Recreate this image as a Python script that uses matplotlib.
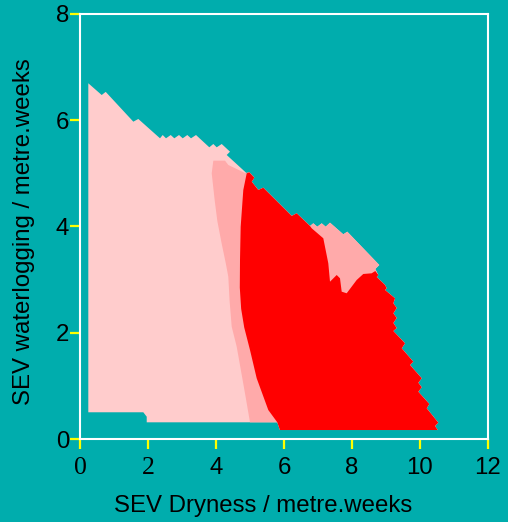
import matplotlib
matplotlib.use('Agg')
import matplotlib.pyplot as plt
from matplotlib.ticker import FixedFormatter

plt.rcParams['font.family'] = ['Liberation Sans', 'DejaVu Sans']
plt.rcParams['font.size'] = 17.3

bg = '#00adad'
light = '#ffcccc'
medium = '#ffaaaa'
core = '#ff0000'

x_ticks = [0, 2, 4, 6, 8, 10, 12]
x_labels = ['0', '2', '4', '6', '8', '10', '12']
serif_labels = 2   # first labels on the x axis drawn in a serif face
y_ticks = [0, 2, 4, 6, 8]

# outer edge, top-left going right along the top
top_x = [0.244, 0.244, 0.638, 0.756, 1.568, 1.715, 2.353, 2.432, 2.529, 2.668, 2.774,
         2.912, 3.021, 3.156, 3.265, 3.412, 3.803, 3.921, 4.021, 4.168, 4.412, 4.315, 4.853]
top_y = [0.503, 6.696, 6.475, 6.534, 5.973, 6.024, 5.660, 5.722, 5.660, 5.722, 5.660,
         5.722, 5.660, 5.722, 5.660, 5.722, 5.491, 5.553, 5.491, 5.553, 5.408, 5.346, 5.031]

# top of the red zone
rtop_x = [4.903, 4.979, 5.126, 5.050, 5.244, 5.391, 6.226, 6.374, 6.765]
rtop_y = [5.001, 5.020, 4.919, 4.843, 4.687, 4.730, 4.198, 4.248, 4.009]

# top of the medium bump
bump_x = [6.862, 6.979, 7.109, 7.226, 7.353, 7.744, 7.862, 8.803, 8.685]
bump_y = [4.060, 3.996, 4.060, 3.996, 4.072, 3.853, 3.902, 3.275, 3.200]

# right and bottom edge of red zone
right_x = [8.774, 8.726, 8.971, 9.021, 8.971, 9.265, 9.215, 9.315, 9.215, 9.315, 9.215,
           9.315, 9.215, 9.559, 9.462, 9.803, 9.706, 10.050, 9.950, 10.050, 9.950,
           10.274, 10.197, 10.538, 10.441, 10.521, 5.882, 5.803]
right_y = [3.087, 3.049, 2.899, 2.837, 2.805, 2.648, 2.554, 2.466, 2.366, 2.278, 2.184,
           2.089, 2.033, 1.801, 1.707, 1.455, 1.393, 1.143, 1.060, 0.973, 0.890,
           0.659, 0.578, 0.307, 0.245, 0.169, 0.169, 0.314]

# bottom of light zone
bot_x = [1.962, 1.962, 1.862, 0.244]
bot_y = [0.314, 0.420, 0.503, 0.503]

# light / medium boundary, bottom to top
lm_x = [5.0, 4.853, 4.609, 4.462, 4.400, 4.362, 4.290, 4.160, 4.040, 3.960, 3.874, 3.921,
        4.265, 4.362, 4.853]
lm_y = [0.314, 0.860, 1.737, 2.114, 2.600, 3.055, 3.300, 3.700, 4.100, 4.500, 5.001, 5.239,
        5.239, 5.158, 5.007]

# medium / red boundary, bottom to top
rm_x = [5.803, 5.538, 5.197, 5.0, 4.830, 4.740, 4.700, 4.706, 4.726, 4.803]
rm_y = [0.314, 0.546, 1.143, 1.675, 2.100, 2.450, 2.850, 3.369, 3.996, 4.687]

# red / bump boundary
rp_x = [6.815, 7.156, 7.303, 7.353, 7.550, 7.647, 7.697, 7.844, 8.138, 8.332, 8.579, 8.685]
rp_y = [3.966, 3.778, 3.307, 2.961, 3.087, 3.025, 2.773, 2.743, 2.993, 3.106, 3.119, 3.162]

fig = plt.figure(figsize=(5.08, 5.22), dpi=100, facecolor=bg)
ax = fig.add_axes([0.1575, 0.159, 0.8031, 0.8142], facecolor=bg)

outer_x = top_x + rtop_x + bump_x + right_x + bot_x
outer_y = top_y + rtop_y + bump_y + right_y + bot_y
ax.fill(outer_x, outer_y, color=light, lw=0)

mid_x = lm_x + rtop_x[1:] + bump_x + right_x
mid_y = lm_y + rtop_y[1:] + bump_y + right_y
ax.fill(mid_x, mid_y, color=medium, lw=0)

red_x = rm_x + rtop_x + rp_x + right_x
red_y = rm_y + rtop_y + rp_y + right_y
ax.fill(red_x, red_y, color=core, lw=0)

ax.set_xlim(0, 12)
ax.set_ylim(0, 8)
ax.set_xticks(x_ticks)
ax.set_yticks(y_ticks)
ax.xaxis.set_major_formatter(FixedFormatter(
    [''] * serif_labels + x_labels[serif_labels:]))
for s in ax.spines.values():
    s.set_color('white')
    s.set_linewidth(1.5)
tick_len, xpad = 7.2, 6
ax.tick_params(colors='yellow', length=tick_len, width=1.6, labelcolor='black')
ax.tick_params(axis='y', pad=0.5)
ax.tick_params(axis='x', pad=xpad)

for xv, lab in zip(x_ticks[:serif_labels], x_labels[:serif_labels]):
    ax.annotate(lab, (xv, 0), xycoords=('data', 'axes fraction'),
                xytext=(0, -(tick_len + xpad)), textcoords='offset points',
                ha='center', va='top', family='Liberation Serif', fontsize=18.5)

ax.set_xlabel('SEV Dryness / metre.weeks')
ax.set_ylabel('SEV waterlogging / metre.weeks')
ax.xaxis.label.set_va('center')
ax.yaxis.label.set_va('center')
ax.xaxis.set_label_coords(0.45, -0.157)
ax.yaxis.set_label_coords(-0.137, 0.487)

fig.savefig('out.png', dpi=100, facecolor=bg)
